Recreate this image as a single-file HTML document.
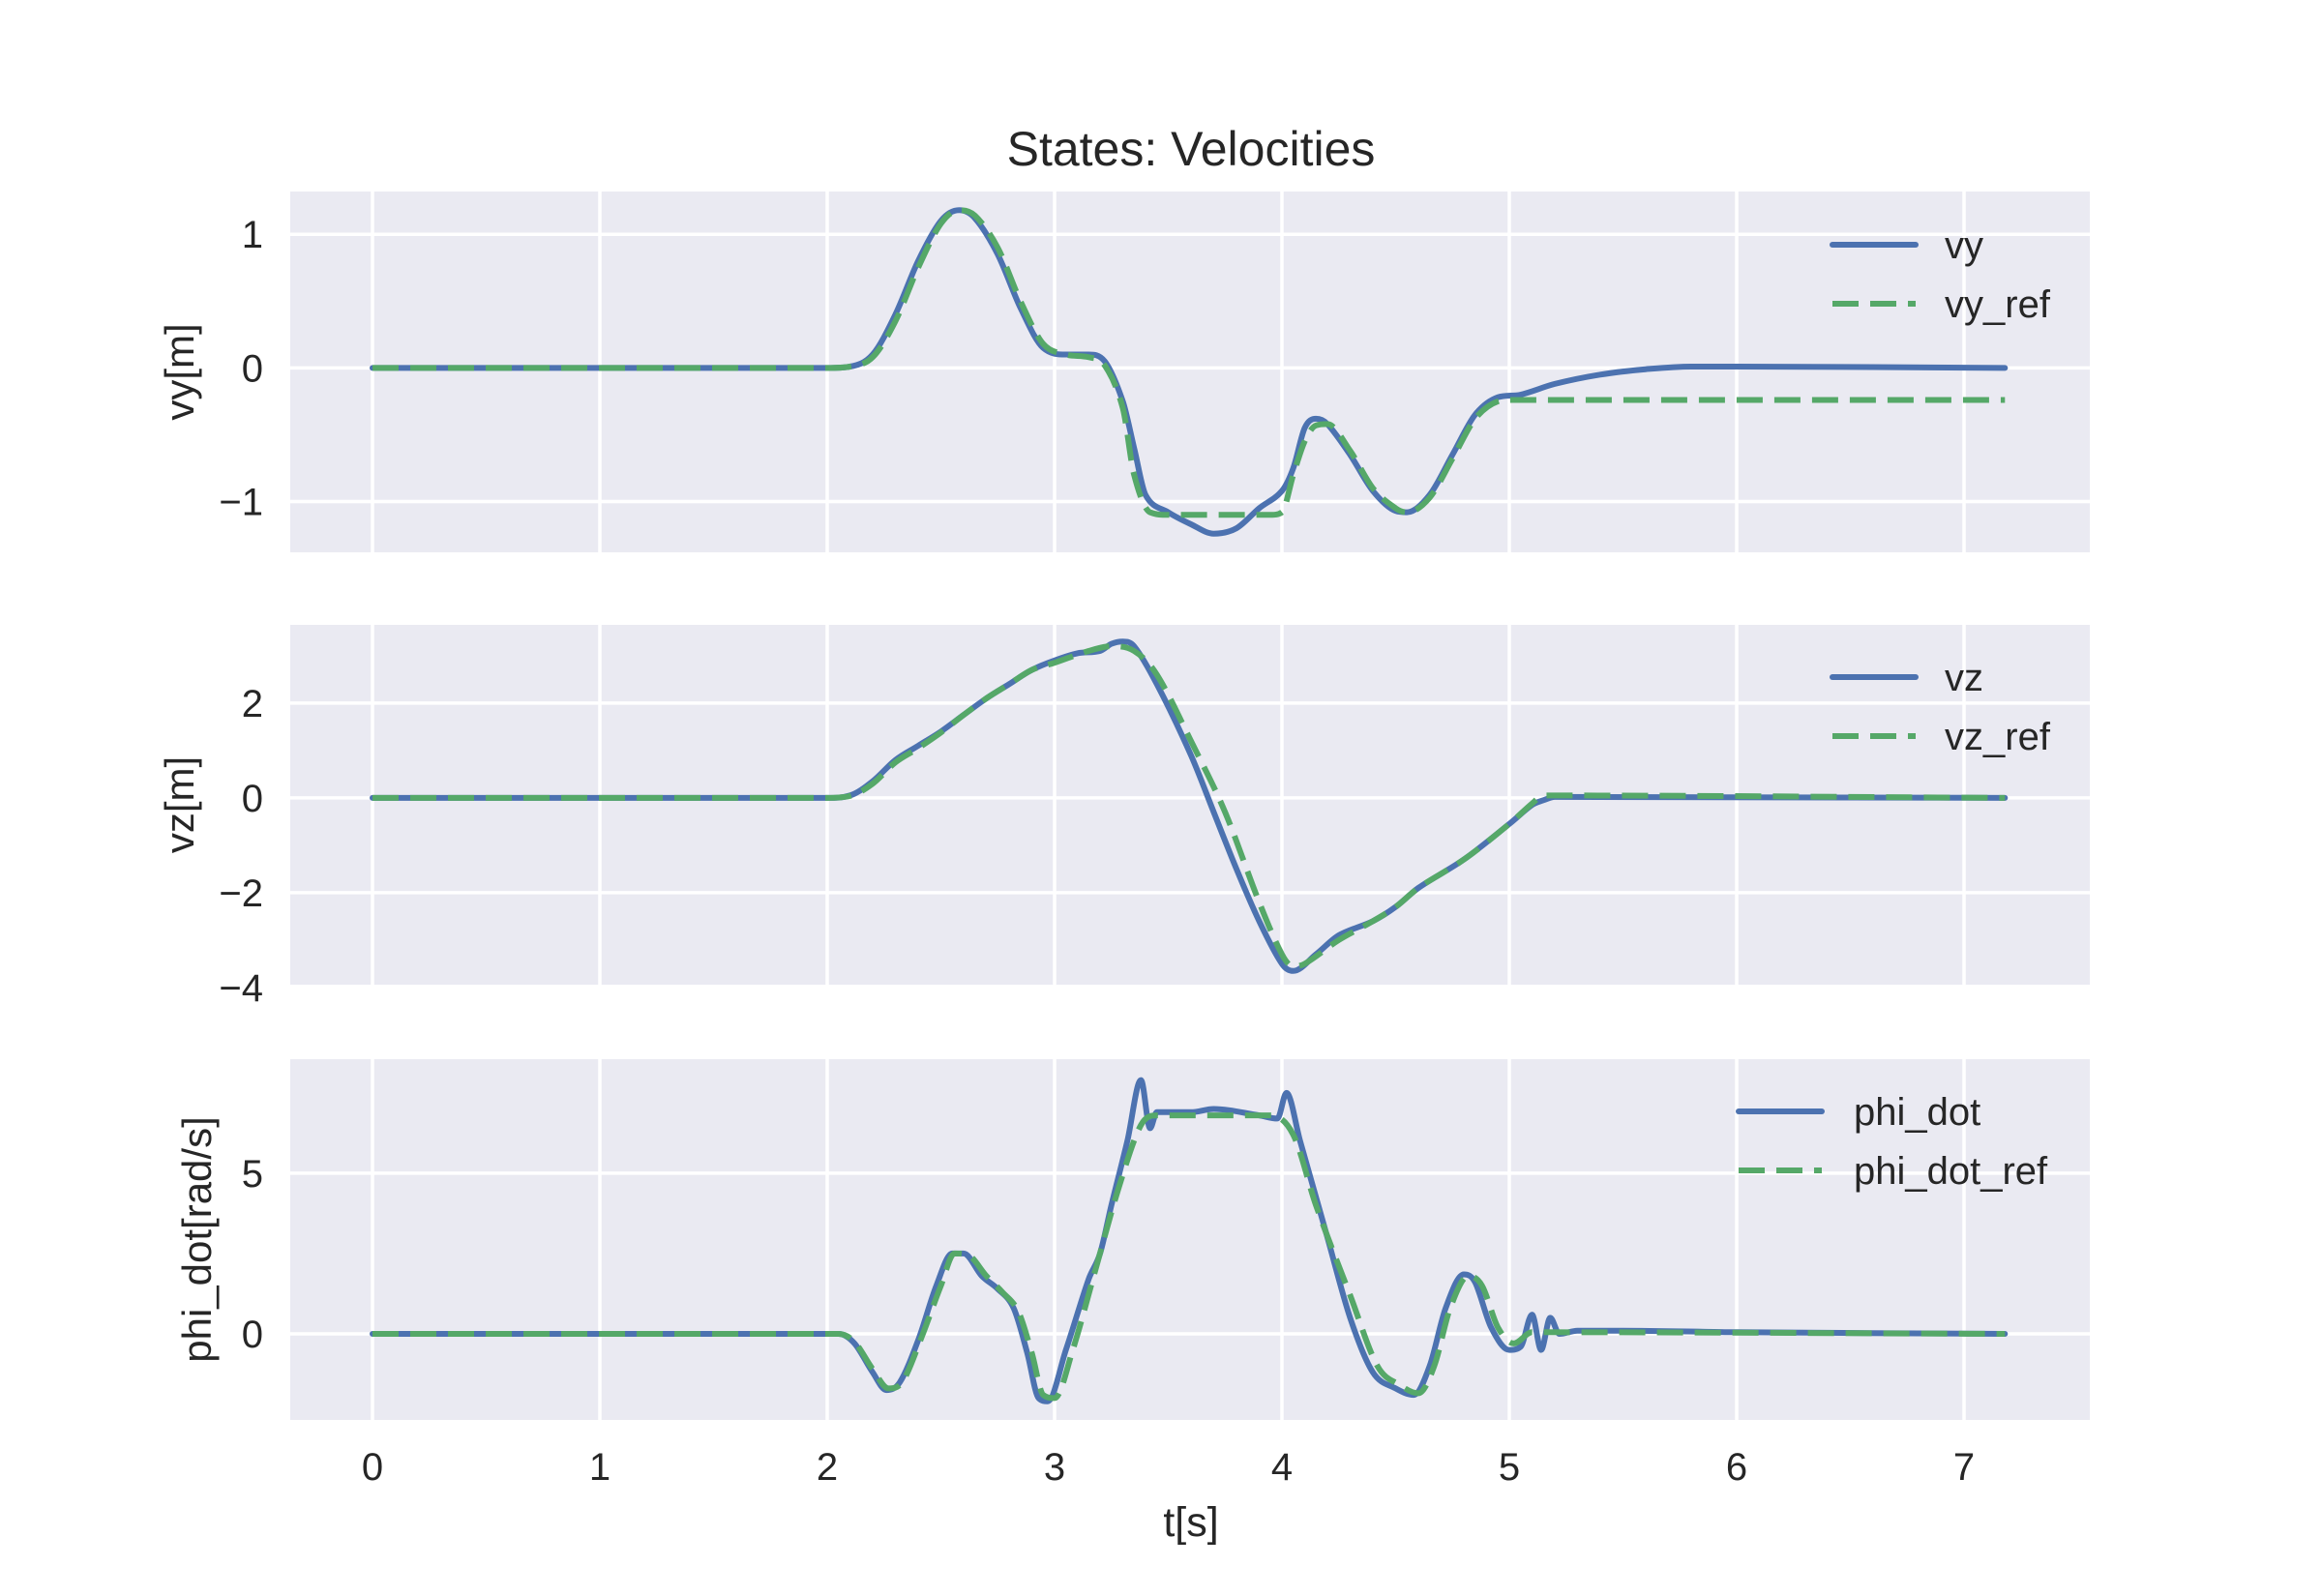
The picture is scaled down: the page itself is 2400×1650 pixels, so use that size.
<!DOCTYPE html>
<html><head><meta charset="utf-8"><style>
html,body{margin:0;padding:0;background:#fff}
svg{display:block;font-family:"Liberation Sans",sans-serif}
</style></head><body>
<svg id="fig" width="2400" height="1650" viewBox="0 0 2400 1650">
<rect width="2400" height="1650" fill="#fff"/>
<text x="1231" y="171" font-size="50" fill="#262626" text-anchor="middle">States: Velocities</text>
<text x="1231" y="1588" font-size="43" fill="#262626" text-anchor="middle">t[s]</text>
</svg>
<script>
const xTicks=[0,1,2,3,4,5,6,7];
const vyT=[0,2.0,2.1,2.2,2.3,2.4,2.5,2.58,2.65,2.75,2.85,2.95,3.05,3.15,3.22,3.3,3.35,3.4,3.5,3.6,3.7,3.8,3.9,4.0,4.05,4.1,4.15,4.2,4.3,4.4,4.5,4.55,4.65,4.75,4.85,4.95,5.05,5.2,5.4,5.6,5.8,6.0,7.18];
const vyV=[0,0,0.01,0.1,0.4,0.8,1.1,1.18,1.12,0.85,0.45,0.15,0.1,0.1,0.05,-0.25,-0.6,-0.95,-1.08,-1.17,-1.24,-1.2,-1.05,-0.92,-0.75,-0.45,-0.38,-0.42,-0.65,-0.92,-1.07,-1.08,-0.95,-0.65,-0.35,-0.22,-0.2,-0.12,-0.05,-0.01,0.01,0.01,0];
const vyRefT=[0,2.0,2.1,2.2,2.3,2.4,2.5,2.58,2.65,2.75,2.85,2.95,3.05,3.15,3.22,3.3,3.35,3.42,3.5,3.95,4.0,4.05,4.1,4.15,4.2,4.3,4.4,4.5,4.55,4.65,4.75,4.85,4.95,5.0,7.18];
const vyRefV=[0,0,0.01,0.08,0.35,0.75,1.08,1.18,1.14,0.9,0.5,0.18,0.1,0.08,0.02,-0.3,-0.8,-1.08,-1.1,-1.1,-1.08,-0.8,-0.55,-0.43,-0.42,-0.62,-0.9,-1.05,-1.08,-0.97,-0.68,-0.38,-0.25,-0.24,-0.24];
const vzT=[0,2.0,2.1,2.2,2.3,2.4,2.5,2.6,2.7,2.8,2.9,3.0,3.1,3.2,3.25,3.3,3.35,3.45,3.6,3.7,3.8,3.9,4.0,4.05,4.15,4.25,4.4,4.5,4.6,4.8,5.0,5.1,5.15,5.2,7.18];
const vzV=[0,0,0.05,0.35,0.8,1.1,1.4,1.75,2.1,2.4,2.7,2.9,3.05,3.1,3.25,3.3,3.2,2.4,0.9,-0.3,-1.5,-2.6,-3.5,-3.65,-3.3,-2.9,-2.6,-2.3,-1.9,-1.3,-0.55,-0.15,-0.05,0.02,0];
const vzRefT=[0,2.0,2.1,2.2,2.3,2.4,2.5,2.6,2.7,2.8,2.9,3.0,3.15,3.25,3.35,3.45,3.6,3.75,3.9,4.0,4.05,4.1,4.25,4.4,4.5,4.6,4.8,5.0,5.1,5.15,5.2,7.18];
const vzRefV=[0,0,0.04,0.3,0.75,1.05,1.38,1.75,2.1,2.4,2.7,2.85,3.1,3.2,3.1,2.6,1.2,-0.3,-2.2,-3.3,-3.55,-3.5,-3.0,-2.6,-2.3,-1.9,-1.3,-0.55,-0.12,0.05,0.05,0];
const phT=[0,2.05,2.12,2.2,2.26,2.32,2.4,2.48,2.55,2.6,2.68,2.75,2.82,2.88,2.93,2.97,3.05,3.15,3.2,3.25,3.32,3.38,3.42,3.45,3.6,3.7,3.9,3.98,4.02,4.08,4.2,4.3,4.4,4.5,4.58,4.65,4.72,4.8,4.85,4.92,5.0,5.05,5.1,5.14,5.18,5.22,5.3,5.5,6.0,7.18];
const phV=[0,0,-0.3,-1.2,-1.75,-1.5,-0.2,1.5,2.5,2.5,1.8,1.4,0.8,-0.6,-2.0,-2.1,-0.5,1.7,2.5,4.0,6.0,7.9,6.4,6.9,6.9,7.0,6.8,6.7,7.5,6.0,3.0,0.5,-1.2,-1.7,-1.9,-1.0,0.8,1.85,1.6,0.2,-0.5,-0.4,0.6,-0.5,0.5,0.0,0.1,0.1,0.05,0];
const phRefT=[0,2.05,2.12,2.2,2.27,2.33,2.41,2.5,2.56,2.62,2.7,2.77,2.84,2.9,2.95,3.0,3.08,3.18,3.28,3.38,3.45,3.95,4.05,4.15,4.3,4.42,4.52,4.6,4.67,4.74,4.82,4.88,4.95,5.02,5.1,7.18];
const phRefV=[0,0,-0.25,-1.1,-1.7,-1.5,-0.2,1.5,2.5,2.45,1.8,1.3,0.7,-0.6,-1.9,-2.0,-0.5,2.0,4.5,6.5,6.8,6.8,6.2,4.0,1.2,-1.0,-1.6,-1.85,-1.0,0.8,1.8,1.5,0.2,-0.3,0.05,0];

const NS='http://www.w3.org/2000/svg';
const svg=document.getElementById('fig');
const X0=300,X1=2160,XMIN=-0.3617,XMAX=7.5532;
function xs(t){return X0+(t-XMIN)/(XMAX-XMIN)*(X1-X0);}
function mk(tag,attrs){const e=document.createElementNS(NS,tag);for(const k in attrs)e.setAttribute(k,attrs[k]);svg.appendChild(e);return e;}
function smooth(P){
 const n=P.length,m=[];
 for(let i=0;i<n;i++){
  const a=P[Math.max(0,i-1)],b=P[Math.min(n-1,i+1)];
  let s=(b[1]-a[1])/(b[0]-a[0]);
  if(i>0&&i<n-1){
   const s1=(P[i][1]-P[i-1][1])/(P[i][0]-P[i-1][0]),s2=(P[i+1][1]-P[i][1])/(P[i+1][0]-P[i][0]);
   if(s1*s2<=0)s=0;
   else{const lim=3*Math.min(Math.abs(s1),Math.abs(s2));if(Math.abs(s)>lim)s=Math.sign(s)*lim;}
  }
  m.push(s);
 }
 let d='M'+P[0][0].toFixed(1)+','+P[0][1].toFixed(1);
 for(let i=0;i<n-1;i++){
  const dx=(P[i+1][0]-P[i][0])/3;
  d+=' C'+(P[i][0]+dx).toFixed(1)+','+(P[i][1]+m[i]*dx).toFixed(1)+' '+(P[i+1][0]-dx).toFixed(1)+','+(P[i+1][1]-m[i+1]*dx).toFixed(1)+' '+P[i+1][0].toFixed(1)+','+P[i+1][1].toFixed(1);
 }
 return d;
}

const panels=[
 {top:198,bot:571,ymin:-1.38,ymax:1.32,ticks:[-1,0,1],label:'vy[m]',s:[[vyT,vyV,'vy'],[vyRefT,vyRefV,'vy_ref']],leg:[1894,253,2010],key:'vy',lx:200},
 {top:646,bot:1018,ymin:-3.94,ymax:3.65,ticks:[-4,-2,0,2],label:'vz[m]',s:[[vzT,vzV,'vz'],[vzRefT,vzRefV,'vz_ref']],leg:[1894,700,2010],key:'vz',lx:200},
 {top:1095,bot:1468,ymin:-2.68,ymax:8.55,ticks:[0,5],label:'phi_dot[rad/s]',s:[[phT,phV,'phi_dot'],[phRefT,phRefV,'phi_dot_ref']],leg:[1797,1149,1916],key:'phi-dot',lx:218}
];
panels.forEach((p,pi)=>{
 const ys=v=>p.bot-(v-p.ymin)/(p.ymax-p.ymin)*(p.bot-p.top);
 const bg=mk('rect',{x:X0,y:p.top,width:X1-X0,height:p.bot-p.top,fill:'#EAEAF2'});
 
 
 xTicks.forEach(t=>{
  const g=mk('line',{x1:xs(t),x2:xs(t),y1:p.top,y2:p.bot,stroke:'#fff','stroke-width':3.5});
  
  
  if(pi===2){
   const tl=mk('text',{x:xs(t),y:1530,'font-size':40,fill:'#262626','text-anchor':'middle'});
   tl.textContent=String(t);
   
   
  }
 });
 p.ticks.forEach(v=>{
  const g=mk('line',{x1:X0,x2:X1,y1:ys(v),y2:ys(v),stroke:'#fff','stroke-width':3.5});
  
  
  const tl=mk('text',{x:272,y:ys(v)+14,'font-size':40,fill:'#262626','text-anchor':'end'});
  tl.textContent=v<0?'\u2212'+Math.abs(v):String(v);
  
  
 });
 const cy=(p.top+p.bot)/2;
 const yl=mk('text',{x:0,y:0,'font-size':42,fill:'#262626','text-anchor':'middle',transform:`translate(${p.lx},${cy}) rotate(-90)`});
 yl.textContent=p.label;
 
 
 p.s.forEach((s,si)=>{
  const P=s[0].map((t,i)=>[xs(t),ys(s[1][i])]);
  const a={d:smooth(P),fill:'none',stroke:si?'#55A868':'#4C72B0','stroke-width':6,'stroke-linejoin':'round','stroke-linecap':si?'butt':'round'};
  if(si)a['stroke-dasharray']='27 12';
  const l=mk('path',a);
  
  
  const ly=p.leg[1]+si*61;
  const la={x1:p.leg[0],x2:p.leg[0]+86,y1:ly,y2:ly,stroke:si?'#55A868':'#4C72B0','stroke-width':6,'stroke-linecap':si?'butt':'round'};
  if(si)la['stroke-dasharray']='27 12';
  const ll=mk('line',la);
  
  
  const lt=mk('text',{x:p.leg[2],y:ly+14,'font-size':40,fill:'#262626'});
  lt.textContent=s[2];
  
  
 });
});
</script>
</body></html>
